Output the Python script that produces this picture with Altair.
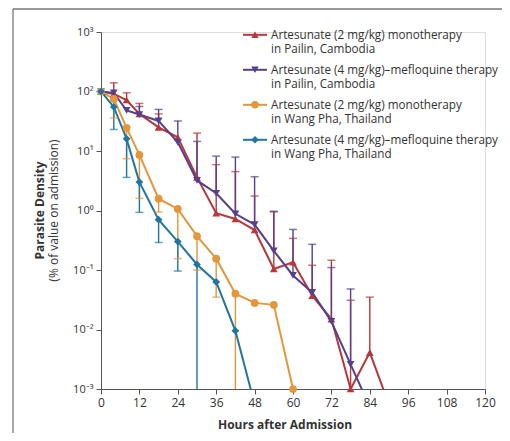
import altair as alt
import pandas as pd

series_names = [
    "Artesunate (2 mg/kg) monotherapy in Pailin, Cambodia",
    "Artesunate (4 mg/kg)–mefloquine therapy in Pailin, Cambodia",
    "Artesunate (2 mg/kg) monotherapy in Wang Pha, Thailand",
    "Artesunate (4 mg/kg)–mefloquine therapy in Wang Pha, Thailand",
]
legend_line1 = [
    "Artesunate (2 mg/kg) monotherapy",
    "Artesunate (4 mg/kg)–mefloquine therapy",
    "Artesunate (2 mg/kg) monotherapy",
    "Artesunate (4 mg/kg)–mefloquine therapy",
]
legend_line2 = [
    "in Pailin, Cambodia",
    "in Pailin, Cambodia",
    "in Wang Pha, Thailand",
    "in Wang Pha, Thailand",
]
colors = ["#b8373a", "#553f8e", "#e6963a", "#1f76a6"]
shapes = ["triangle-up", "triangle-down", "circle", "diamond"]

# series values (% of admission value); values below 1e-3 fall off the axis
red_hours = [0, 4, 8, 12, 18, 24, 30, 36, 42, 48, 54, 60, 66, 72, 78, 84, 90]
red_vals = [100, 91, 72, 42, 25, 17, 3.6, 0.9, 0.72, 0.47, 0.104, 0.135, 0.037, 0.015, 0.001, 0.0041, 0.00055]
purple_hours = [0, 4, 8, 12, 18, 24, 30, 36, 42, 48, 54, 60, 66, 72, 78, 84]
purple_vals = [100, 95, 48, 41, 32, 14, 3.2, 1.95, 0.88, 0.58, 0.21, 0.081, 0.042, 0.0137, 0.0026, 0.0005]
orange_hours = [0, 4, 8, 12, 18, 24, 30, 36, 42, 48, 54, 60]
orange_vals = [100, 75, 24.5, 8.6, 1.58, 1.06, 0.37, 0.155, 0.040, 0.028, 0.026, 0.001]
blue_hours = [0, 4, 8, 12, 18, 24, 30, 36, 42, 48]
blue_vals = [100, 55, 16, 3.0, 0.70, 0.30, 0.124, 0.063, 0.0095, 0.00056]

# error bars: upper for Pailin, lower for Wang Pha
red_err_hours = [4, 8, 12, 18, 30, 36, 42, 48, 54, 60, 66, 72, 78, 84]
red_err_end = [140, 95, 63, 42, 20, 5.9, 4.5, 1.75, 0.95, 0.34, 0.12, 0.146, 0.031, 0.035]
purple_err_hours = [12, 18, 24, 30, 36, 42, 48, 54, 60, 66, 72, 78]
purple_err_end = [56, 50, 32, 14.5, 8.2, 7.9, 3.7, 0.97, 0.48, 0.27, 0.11, 0.048]
orange_err_hours = [4, 8, 12, 18, 24, 30, 36, 42]
orange_err_end = [36, 7.4, 1.6, 0.94, 0.155, 0.1, 0.035, 0.00001]
blue_err_hours = [4, 8, 12, 18, 24, 30]
blue_err_end = [23, 3.6, 0.93, 0.29, 0.096, 0.00001]

x_ticks = [0, 12, 24, 36, 48, 60, 72, 84, 96, 108, 120]
y_ticks = [0.001, 0.01, 0.1, 1, 10, 100, 1000]

all_hours = [red_hours, purple_hours, orange_hours, blue_hours]
all_vals = [red_vals, purple_vals, orange_vals, blue_vals]
err_hours = [red_err_hours, purple_err_hours, orange_err_hours, blue_err_hours]
err_end = [red_err_end, purple_err_end, orange_err_end, blue_err_end]

rows = []
for s, hs, vs in zip(series_names, all_hours, all_vals):
    for h, v in zip(hs, vs):
        rows.append({"series": s, "hour": h, "value": v})
df = pd.DataFrame(rows)

erows = []
for s, hs, vs, ehs, ees in zip(series_names, all_hours, all_vals, err_hours, err_end):
    lookup = dict(zip(hs, vs))
    for h, e in zip(ehs, ees):
        erows.append({"series": s, "hour": h, "value": lookup[h], "end": e})
edf = pd.DataFrame(erows)

W, H = 384, 357
FONT = "Open Sans"

xscale = alt.Scale(domain=[0, 120], nice=False)
yscale = alt.Scale(type="log", domain=[0.001, 1000], nice=False)
cscale = alt.Scale(domain=series_names, range=colors)
sscale = alt.Scale(domain=series_names, range=shapes)

ylabel = ("datum.value >= 999 ? '10³' : datum.value >= 99 ? '10²' : datum.value >= 9 ? '10¹' : "
          "datum.value >= 0.9 ? '10⁰' : datum.value >= 0.09 ? '10⁻¹' : datum.value >= 0.009 ? '10⁻²' : '10⁻³'")

xaxis = alt.Axis(values=x_ticks, title=None, grid=False, tickSize=5,
                 labelOverlap=False, labelFlush=False,
                 labelFontSize=12, labelPadding=3, labelColor="#333",
                 domainColor="#555", tickColor="#555", labelFont=FONT)
yaxis = alt.Axis(values=y_ticks, title=None, grid=False, tickSize=5,
                 labelOverlap=False, labelFlush=False,
                 labelExpr=ylabel, labelFontSize=11, labelColor="#333",
                 labelPadding=3, domainColor="#555", tickColor="#555", labelFont=FONT)

x_enc = alt.X("hour:Q", scale=xscale, axis=xaxis)
y_enc = alt.Y("value:Q", scale=yscale, axis=yaxis)
color_enc = alt.Color("series:N", scale=cscale, legend=None)

stems = alt.Chart(edf).mark_rule(strokeWidth=1.4, clip=True).encode(
    x=x_enc, y=y_enc, y2="end:Q", color=color_enc,
)
caps = alt.Chart(edf).mark_tick(orient="horizontal", size=8, thickness=1.5, clip=True).encode(
    x=x_enc,
    y=alt.Y("end:Q", scale=yscale, axis=yaxis),
    color=color_enc,
)
lines = alt.Chart(df).mark_line(strokeWidth=2, clip=True).encode(
    x=x_enc, y=y_enc, color=color_enc, detail="series:N",
)
points = alt.Chart(df).transform_filter("datum.value >= 0.001").mark_point(
    filled=True, size=60, opacity=1).encode(
    x=x_enc, y=y_enc, color=color_enc,
    shape=alt.Shape("series:N", scale=sscale, legend=None),
)

one = pd.DataFrame({"k": [0]})
layers = [stems, lines, caps, points]

# frame lines (left and top)
layers.append(alt.Chart(one).mark_rule(color="#777", strokeWidth=1.3).encode(
    x=alt.value(-88), y=alt.value(-23), y2=alt.value(H + 60)))
layers.append(alt.Chart(one).mark_rule(color="#777", strokeWidth=1.3).encode(
    x=alt.value(-88), x2=alt.value(W + 40), y=alt.value(-23)))

# legend
for i in range(4):
    ry = 2.8 + 35 * i
    layers.append(alt.Chart(one).mark_rule(color=colors[i], strokeWidth=2).encode(
        x=alt.value(142), x2=alt.value(166), y=alt.value(ry)))
    layers.append(alt.Chart(one).mark_point(filled=True, size=55, opacity=1, shape=shapes[i],
                                            color=colors[i]).encode(
        x=alt.value(154), y=alt.value(ry)))
    layers.append(alt.Chart(one).mark_text(align="left", baseline="middle", fontSize=11.7,
                                           font=FONT, color="#333", text=legend_line1[i]).encode(
        x=alt.value(170), y=alt.value(ry)))
    layers.append(alt.Chart(one).mark_text(align="left", baseline="middle", fontSize=11.7,
                                           font=FONT, color="#333", text=legend_line2[i]).encode(
        x=alt.value(170), y=alt.value(ry + 14.5)))

# axis titles
layers.append(alt.Chart(one).mark_text(fontSize=12, fontWeight="bold", font=FONT, color="#333",
                                       text="Hours after Admission").encode(
    x=alt.value(184), y=alt.value(H + 36)))
layers.append(alt.Chart(one).mark_text(fontSize=12, fontWeight="bold", font=FONT, color="#333",
                                       angle=270, text="Parasite Density").encode(
    x=alt.value(-61), y=alt.value(H / 2)))
layers.append(alt.Chart(one).mark_text(fontSize=12, font=FONT, color="#333",
                                       angle=270, text="(% of value on admission)").encode(
    x=alt.value(-47), y=alt.value(H / 2)))

chart = alt.layer(*layers).properties(
    width=W, height=H,
    autosize=alt.AutoSizeParams(type="none"),
    padding={"left": 93, "top": 24, "right": 17, "bottom": 44},
).configure_view(stroke=None).configure(background="white")

chart.save("out.html", embed_options={"renderer": "svg", "actions": False})
